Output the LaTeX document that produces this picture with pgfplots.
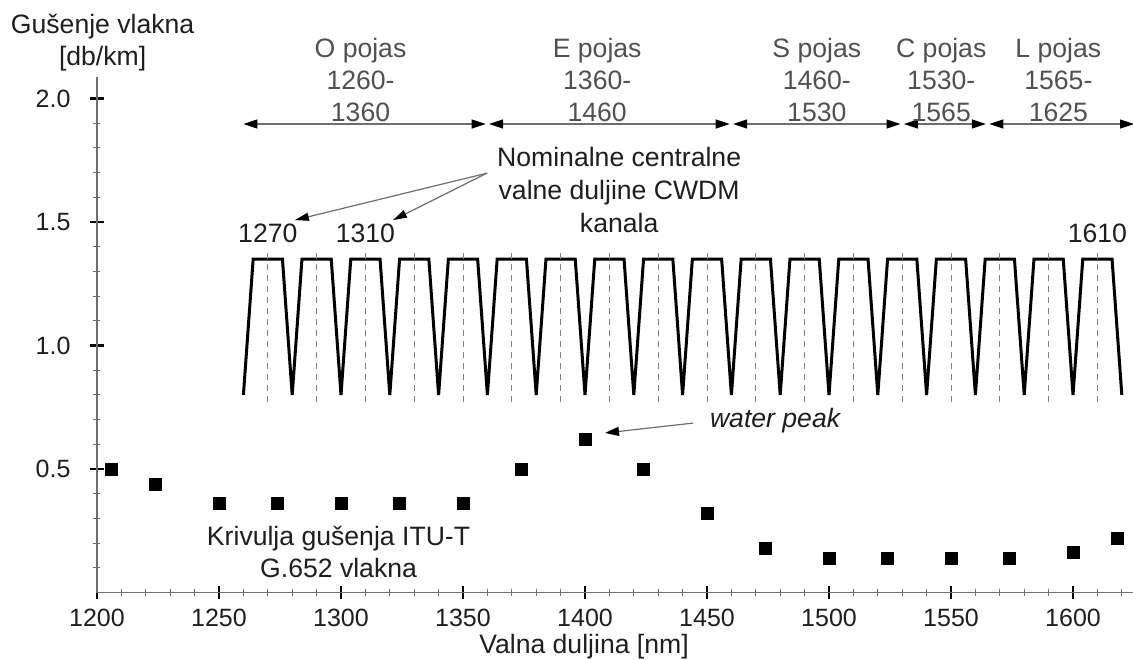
\documentclass[border=0pt]{standalone}
\usepackage{fontspec}
\setmainfont{Liberation Sans}
\usepackage{pgfplots}
\pgfplotsset{compat=1.18}
\usetikzlibrary{arrows.meta}
\definecolor{bandtxt}{HTML}{505050}
\definecolor{axgray}{HTML}{6E6E6E}
\definecolor{txt}{HTML}{1E1E1E}

\begin{document}
\begin{tikzpicture}[font=\fontsize{13.3}{16}\selectfont, text=txt]
\begin{axis}[
    scale only axis,
    width=518.5pt, height=257.7pt,
    xmin=1200, xmax=1625, ymin=0, ymax=2.087,
    axis lines=left,
    axis line style={axgray, line width=0.8pt, -},
    clip=false,
    tick align=center,
    major tick length=6.5pt,
    minor tick length=3.5pt,
    major tick style={black, line width=1.4pt},
    minor tick style={axgray, line width=0.5pt},
    xtick={1200,1250,1300,1350,1400,1450,1500,1550,1600},
    minor xtick={1210,1220,1230,1240,1260,1270,1280,1290,1310,1320,1330,1340,1360,1370,1380,1390,1410,1420,1430,1440,1460,1470,1480,1490,1510,1520,1530,1540,1560,1570,1580,1590,1610,1620},
    ytick={0.5,1,1.5,2},
    minor ytick={0.1,0.2,0.3,0.4,0.6,0.7,0.8,0.9,1.1,1.2,1.3,1.4,1.6,1.7,1.8,1.9},
    tick label style={font=\fontsize{12.5}{15}\selectfont, text=txt},
    /pgf/number format/assume math mode=true,
    xticklabel style={/pgf/number format/set thousands separator={}, yshift=-1.5pt},
    yticklabel style={/pgf/number format/fixed, /pgf/number format/fixed zerofill,
        /pgf/number format/precision=1, xshift=-6.5pt},
]
\coordinate (o) at (axis cs:1200,0);

% CWDM channel filter shapes
\addplot[black, line width=1.5pt, line join=miter] coordinates {
(1260,0.8)
(1264,1.35) (1276,1.35) (1280,0.8)
(1284,1.35) (1296,1.35) (1300,0.8)
(1304,1.35) (1316,1.35) (1320,0.8)
(1324,1.35) (1336,1.35) (1340,0.8)
(1344,1.35) (1356,1.35) (1360,0.8)
(1364,1.35) (1376,1.35) (1380,0.8)
(1384,1.35) (1396,1.35) (1400,0.8)
(1404,1.35) (1416,1.35) (1420,0.8)
(1424,1.35) (1436,1.35) (1440,0.8)
(1444,1.35) (1456,1.35) (1460,0.8)
(1464,1.35) (1476,1.35) (1480,0.8)
(1484,1.35) (1496,1.35) (1500,0.8)
(1504,1.35) (1516,1.35) (1520,0.8)
(1524,1.35) (1536,1.35) (1540,0.8)
(1544,1.35) (1556,1.35) (1560,0.8)
(1564,1.35) (1576,1.35) (1580,0.8)
(1584,1.35) (1596,1.35) (1600,0.8)
(1604,1.35) (1616,1.35) (1620,0.8)
};

% nominal centre wavelengths
\addplot[gray, line width=0.5pt, dash pattern=on 3pt off 2.5pt, unbounded coords=jump] coordinates {
(1270,0.77) (1270,1.38) (1280,nan)
(1290,0.77) (1290,1.38) (1300,nan)
(1310,0.77) (1310,1.38) (1320,nan)
(1330,0.77) (1330,1.38) (1340,nan)
(1350,0.77) (1350,1.38) (1360,nan)
(1370,0.77) (1370,1.38) (1380,nan)
(1390,0.77) (1390,1.38) (1400,nan)
(1410,0.77) (1410,1.38) (1420,nan)
(1430,0.77) (1430,1.38) (1440,nan)
(1450,0.77) (1450,1.38) (1460,nan)
(1470,0.77) (1470,1.38) (1480,nan)
(1490,0.77) (1490,1.38) (1500,nan)
(1510,0.77) (1510,1.38) (1520,nan)
(1530,0.77) (1530,1.38) (1540,nan)
(1550,0.77) (1550,1.38) (1560,nan)
(1570,0.77) (1570,1.38) (1580,nan)
(1590,0.77) (1590,1.38) (1600,nan)
(1610,0.77) (1610,1.38)
};

% attenuation of G.652 fibre
\addplot[only marks, mark=square*, mark size=3pt, black] coordinates {
(1206,0.5) (1224,0.439) (1250,0.359) (1274,0.359) (1300,0.359) (1324,0.359)
(1350,0.359) (1374,0.5) (1400,0.62) (1424,0.5) (1450,0.319) (1474,0.18)
(1500,0.139) (1524,0.139) (1550,0.139) (1574,0.139) (1600,0.161) (1618,0.22)
};

% bands
\tikzset{bandarrow/.style={axgray, line width=0.6pt,
    {Triangle[length=7pt,width=4.5pt,color=black]}-{Triangle[length=7pt,width=4.5pt,color=black]}}}
\addplot[bandarrow] coordinates {(1260,1.897) (1359.3,1.897)};
\addplot[bandarrow] coordinates {(1360.7,1.897) (1459.3,1.897)};
\addplot[bandarrow] coordinates {(1460.7,1.897) (1529.3,1.897)};
\addplot[bandarrow] coordinates {(1530.7,1.897) (1564.3,1.897)};
\addplot[bandarrow] coordinates {(1565.7,1.897) (1625,1.897)};

\tikzset{bandlbl/.style={align=center, text=bandtxt, inner sep=0pt}}
\node[bandlbl] at (axis cs:1308,2.075) {O pojas\\1260-\\1360};
\node[bandlbl] at (axis cs:1405,2.075) {E pojas\\1360-\\1460};
\node[bandlbl] at (axis cs:1495,2.075) {S pojas\\1460-\\1530};
\node[bandlbl] at (axis cs:1546,2.075) {C pojas\\1530-\\1565};
\node[bandlbl] at (axis cs:1594,2.075) {L pojas\\1565-\\1625};

\node[inner sep=0pt] at (axis cs:1270,1.455) {1270};
\node[inner sep=0pt] at (axis cs:1310,1.455) {1310};
\node[inner sep=0pt] at (axis cs:1610,1.455) {1610};

\node[align=center, inner sep=0pt, font=\fontsize{13.3}{16.5}\selectfont] at (axis cs:1414,1.63) {Nominalne centralne\\valne duljine CWDM\\kanala};
\draw[axgray, line width=0.6pt, -{Triangle[length=7pt,width=4pt,color=black]}]
    (axis cs:1359.8,1.698) -- (axis cs:1281.1,1.508);
\draw[axgray, line width=0.6pt, -{Triangle[length=7pt,width=4pt,color=black]}]
    (axis cs:1359.8,1.698) -- (axis cs:1321.3,1.508);

\node[inner sep=0pt, font=\fontsize{13.3}{16}\selectfont\itshape] at (axis cs:1477.9,0.698) {water peak};
\draw[axgray, line width=0.6pt, -{Triangle[length=7pt,width=4.5pt,color=black]}]
    (axis cs:1444.3,0.686) -- (axis cs:1408.2,0.646);

\node[align=center, inner sep=0pt] at (axis cs:1299,0.165) {Krivulja gušenja ITU-T\\G.652 vlakna};

\node[align=center, inner sep=0pt] at (axis cs:1202.3,2.227) {Gušenje vlakna\\{[db/km]}};
\node[inner sep=0pt] at (axis cs:1399.6,-0.219) {Valna duljina [nm]};
\end{axis}
\pgfresetboundingbox
\path[use as bounding box] ([shift={(-48.5pt,-33.25pt)}]o) rectangle ([shift={(518pt,296.25pt)}]o);
\end{tikzpicture}
\end{document}
